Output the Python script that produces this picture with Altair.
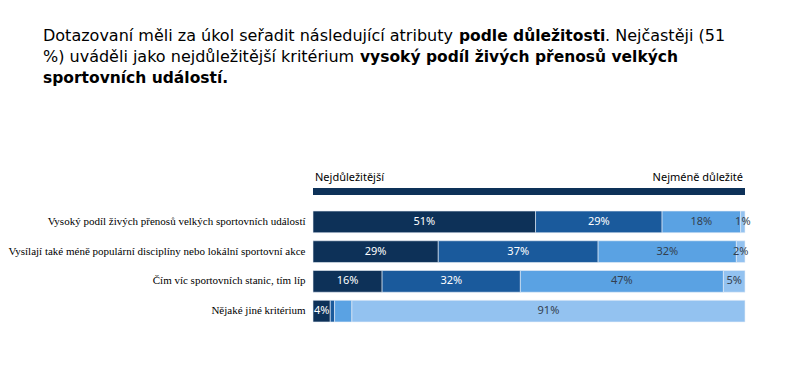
import altair as alt
import pandas as pd

categories = [
    "Vysoký podíl živých přenosů velkých sportovních událostí",
    "Vysílají také méně populární disciplíny nebo lokální sportovní akce",
    "Čím víc sportovních stanic, tím líp",
    "Nějaké jiné kritérium",
]
ranks = ["1", "2", "3", "4"]
rank1 = [51, 29, 16, 4]
rank2 = [29, 37, 32, 1]
rank3 = [18, 32, 47, 4]
rank4 = [1, 2, 5, 91]
hidden_labels = [("Nějaké jiné kritérium", "2"), ("Nějaké jiné kritérium", "3")]
colors = ["#0d3158", "#1a5a9c", "#5aa2e3", "#93c2f0"]
label_colors = ["#ffffff", "#ffffff", "#333f4f", "#333f4f"]

header_left = "Nejdůležitější"
header_right = "Nejméně důležité"

title_segments = [
    # (text, bold, page_x, page_y)
    ("Dotazovaní měli za úkol seřadit následující atributy", False, 43, 36),
    ("podle důležitosti", True, 459, 36),
    (". Nejčastěji (51", False, 605, 36),
    ("%) uváděli jako nejdůležitější kritérium", False, 43, 57),
    ("vysoký podíl živých přenosů velkých", True, 360, 57),
    ("sportovních událostí.", True, 43, 78),
]

rows = []
for series, r, lc in zip([rank1, rank2, rank3, rank4], ranks, label_colors):
    for c, v in zip(categories, series):
        rows.append({
            "category": c,
            "rank": r,
            "value": v,
            "label": "" if (c, r) in hidden_labels else f"{v}%",
            "tc": lc,
        })
df = pd.DataFrame(rows)

PLOT_LEFT = 313
PLOT_TOP = 207
W = 432
H = 119

y_enc = alt.Y(
    "category:N",
    sort=categories,
    scale=alt.Scale(paddingInner=0.27, paddingOuter=0.135),
    axis=alt.Axis(
        title=None, ticks=False, domain=False, labelFont="Liberation Serif",
        labelFontSize=11, labelColor="#000000", labelPadding=8, labelLimit=400,
    ),
)
x_scale = alt.Scale(domain=[0, 1], nice=False, zero=True)

base = alt.Chart(df).transform_stack(
    stack="value", groupby=["category"], as_=["x0", "x1"],
    offset="normalize", sort=[alt.SortField("rank", order="ascending")],
).transform_calculate(mid="(datum.x0 + datum.x1) / 2")

bars = base.mark_bar(stroke="#e8eef6", strokeWidth=0.6).encode(
    x=alt.X("x0:Q", scale=x_scale, axis=None),
    x2="x1:Q",
    y=y_enc,
    color=alt.Color("rank:N", scale=alt.Scale(domain=ranks, range=colors), legend=None),
)

labels = base.mark_text(font="Noto Sans", fontSize=11, baseline="middle", align="center").encode(
    x=alt.X("mid:Q", scale=x_scale, axis=None),
    y=y_enc,
    text="label:N",
    color=alt.Color("tc:N", scale=None),
)

hdr = pd.DataFrame({"s": [0.0], "e": [1.0], "l": [header_left], "r": [header_right]})
header_bar = alt.Chart(hdr).mark_rect(color="#0d3158").encode(
    x=alt.X("s:Q", scale=x_scale, axis=None), x2="e:Q",
    y=alt.value(188 - PLOT_TOP), y2=alt.value(195 - PLOT_TOP),
)
header_l = alt.Chart(hdr).mark_text(font="Noto Sans", fontSize=11, align="left", baseline="middle", color="#000000", dx=2).encode(
    x=alt.X("s:Q", scale=x_scale, axis=None), y=alt.value(178 - PLOT_TOP), text="l:N",
)
header_r = alt.Chart(hdr).mark_text(font="Noto Sans", fontSize=11, align="right", baseline="middle", color="#000000", dx=-2).encode(
    x=alt.X("e:Q", scale=x_scale, axis=None), y=alt.value(178 - PLOT_TOP), text="r:N",
)

title_layers = []
for text, bold, px, py in title_segments:
    title_layers.append(
        alt.Chart(pd.DataFrame({"t": [text]})).mark_text(
            font="DejaVu Sans", fontSize=15.5 if bold else 16,
            fontWeight="bold" if bold else "normal",
            align="left", baseline="middle", color="#000000",
        ).encode(x=alt.value(px - PLOT_LEFT), y=alt.value(py - PLOT_TOP), text="t:N")
    )

chart = alt.layer(bars, labels, header_bar, header_l, header_r, *title_layers).properties(
    width=W, height=H,
    padding={"left": PLOT_LEFT - 8, "top": PLOT_TOP - 8, "right": 40, "bottom": 40},
    autosize=alt.AutoSizeParams(type="none"),
    background="#ffffff",
).configure_view(stroke=None)

chart.save("out.html", embed_options={"renderer": "svg", "actions": False})
